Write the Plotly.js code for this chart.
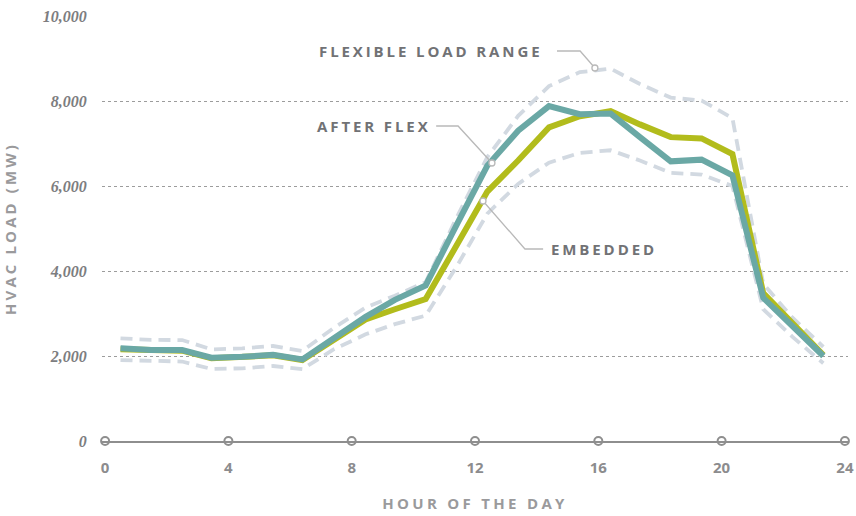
<!DOCTYPE html>
<html>
<head>
<meta charset="utf-8">
<script src="https://cdn.plot.ly/plotly-3.0.1.min.js"></script>
<style>
  html, body { margin: 0; padding: 0; background: #fff; }
  #chart { width: 856px; height: 516px; }
  .annotation-text { letter-spacing: 2.9px; }
  .xtitle { letter-spacing: 3.3px; }
  .ytitle { letter-spacing: 3.1px; }
</style>
</head>
<body>
<div id="chart"></div>
<script>
// Hour of day (sample positions)
const hours = [0.5, 1.5, 2.5, 3.45, 4.45, 5.45, 6.4, 7.4, 8.45, 9.4, 10.4, 11.4,
               12.4, 13.4, 14.4, 15.4, 16.4, 17.35, 18.35, 19.35, 20.35, 21.35, 22.3, 23.3];

// HVAC load (MW)
const afterFlex = [2180, 2140, 2140, 1960, 1980, 2030, 1920, 2400, 2920, 3320, 3660, 5080,
                   6480, 7300, 7880, 7690, 7705, 7150, 6580, 6620, 6250, 3370, 2680, 2000];
const embedded  = [2160, 2125, 2125, 1945, 1965, 2015, 1905, 2370, 2860, 3100, 3340, 4600,
                   5870, 6600, 7380, 7640, 7760, 7450, 7150, 7120, 6750, 3480, 2750, 2020];
const flexUpper = [2415, 2380, 2375, 2155, 2180, 2235, 2120, 2650, 3140, 3420, 3740, 5250,
                   6680, 7650, 8350, 8680, 8760, 8400, 8080, 8010, 7600, 3700, 2900, 2215];
const flexLower = [1905, 1880, 1870, 1695, 1710, 1765, 1690, 2150, 2510, 2750, 2950, 4100,
                   5350, 6050, 6550, 6780, 6840, 6600, 6310, 6270, 6000, 3100, 2450, 1830];

const xTicks = [0, 4, 8, 12, 16, 20, 24];
const xTickLabels = ['0', '4', '8', '12', '16', '20', '24'];
const yTicks = [0, 2000, 4000, 6000, 8000, 10000];

const labels = {
  range: 'FLEXIBLE LOAD RANGE',
  after: 'AFTER FLEX',
  embedded: 'EMBEDDED',
  xTitle: 'HOUR OF THE DAY',
  yTitle: 'HVAC LOAD (MW)'
};

const dashStyle = {color: '#d2d9e1', width: 3.8, dash: '12px,7px'};

const traces = [
  {x: hours, y: flexUpper, type: 'scatter', mode: 'lines', line: dashStyle, hoverinfo: 'skip'},
  {x: hours, y: flexLower, type: 'scatter', mode: 'lines', line: dashStyle, hoverinfo: 'skip'},
  {x: hours, y: embedded, type: 'scatter', mode: 'lines', line: {color: '#b2bc1c', width: 6}},
  {x: hours, y: afterFlex, type: 'scatter', mode: 'lines', line: {color: '#6aa8a5', width: 6}},
  {x: xTicks, y: xTicks.map(() => 0), type: 'scatter', mode: 'markers', cliponaxis: false,
   marker: {symbol: 'circle', size: 8, color: '#ffffff', line: {color: '#8e8e8e', width: 2}},
   hoverinfo: 'skip'}
];

const leaderColor = '#b9b9b9';
function leader(pts) {
  return {type: 'path', xref: 'x', yref: 'y',
    path: 'M' + pts.map(p => p[0] + ',' + p[1]).join(' L'),
    line: {color: leaderColor, width: 1.3}};
}
function dot(x, y) {
  return {type: 'circle', xref: 'x', yref: 'y', xsizemode: 'pixel', ysizemode: 'pixel',
    xanchor: x, yanchor: y, x0: -3, x1: 3, y0: -3, y1: 3,
    fillcolor: '#ffffff', line: {color: leaderColor, width: 1.3}};
}

const annFont = {family: 'Open Sans', size: 15, weight: 700, color: '#717275'};

const layout = {
  width: 856, height: 516,
  margin: {l: 102, r: 8, t: 16, b: 75},
  paper_bgcolor: '#ffffff', plot_bgcolor: '#ffffff',
  showlegend: false,
  xaxis: {
    range: [-0.1, 24.1], tickvals: xTicks, ticktext: xTickLabels,
    ticks: 'outside', ticklen: 12, tickcolor: 'rgba(0,0,0,0)',
    tickfont: {family: 'Open Sans', size: 15, weight: 700, color: '#8c8c8e'},
    showgrid: false, zeroline: false,
    showline: true, linecolor: '#8e8e8e', linewidth: 2,
    title: {text: labels.xTitle, standoff: 22,
      font: {family: 'Open Sans', size: 15, weight: 700, color: '#9a9a9c'}}
  },
  yaxis: {
    range: [0, 10000], tickvals: yTicks, tickformat: ',',
    ticks: 'outside', ticklen: 11, tickcolor: 'rgba(0,0,0,0)',
    tickfont: {family: 'Liberation Serif', size: 16, style: 'italic', weight: 700, color: '#7d7d80'},
    showgrid: true, gridcolor: '#9c9c9c', gridwidth: 1, griddash: '3px,3px',
    zeroline: false,
    title: {text: labels.yTitle, standoff: 23,
      font: {family: 'Open Sans', size: 15, weight: 700, color: '#9a9a9c'}}
  },
  shapes: [
    leader([[14.66, 9176], [15.41, 9176], [15.89, 8776]]),
    dot(15.89, 8776),
    leader([[10.74, 7412], [11.45, 7412], [12.55, 6541]]),
    dot(12.55, 6541),
    leader([[14.21, 4518], [13.62, 4518], [12.26, 5647]]),
    dot(12.26, 5647)
  ],
  annotations: [
    {x: 14.27, y: 9176, xref: 'x', yref: 'y', text: labels.range, showarrow: false,
     xanchor: 'right', yanchor: 'middle', font: annFont},
    {x: 10.64, y: 7412, xref: 'x', yref: 'y', text: labels.after, showarrow: false,
     xanchor: 'right', yanchor: 'middle', font: annFont},
    {x: 14.4, y: 4518, xref: 'x', yref: 'y', text: labels.embedded, showarrow: false,
     xanchor: 'left', yanchor: 'middle', font: annFont}
  ]
};

Plotly.newPlot('chart', traces, layout, {displayModeBar: false, staticPlot: true});
</script>
</body>
</html>
